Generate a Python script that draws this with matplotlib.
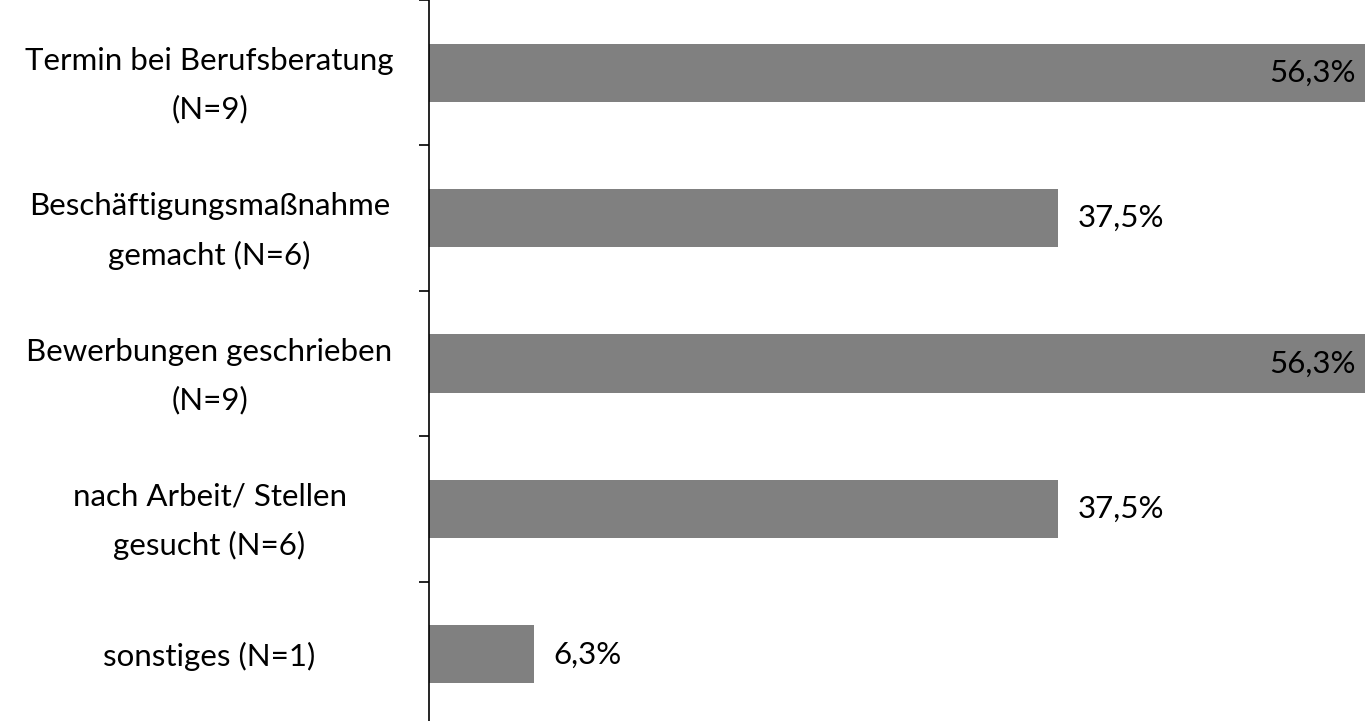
import matplotlib
matplotlib.use("Agg")
import matplotlib.pyplot as plt

categories = [
    "Termin bei Berufsberatung\n(N=9)",
    "Beschäftigungsmaßnahme\ngemacht (N=6)",
    "Bewerbungen geschrieben\n(N=9)",
    "nach Arbeit/ Stellen\ngesucht (N=6)",
    "sonstiges (N=1)",
]
values = [56.25, 37.5, 56.25, 37.5, 6.25]
value_labels = ["56,3%", "37,5%", "56,3%", "37,5%", "6,3%"]

plt.rcParams['font.family'] = ['Lato', 'DejaVu Sans']
FS = 22.5

fig = plt.figure(figsize=(13.65, 7.21), dpi=100)
ax = fig.add_axes([429/1365, -6/721, 1 - 429/1365, 727/721])

pos = list(range(len(categories)))
ax.barh(pos, values, height=0.4, color="#808080", edgecolor="none")
xmax = 55.8
ax.set_xlim(0, xmax)
ax.set_ylim(len(categories) - 0.5, -0.5)

for p, v, lab in zip(pos, values, value_labels):
    if v > xmax * 0.9:
        ax.annotate(lab, xy=(1.0, p), xycoords=('axes fraction', 'data'),
                    xytext=(-7, 0), textcoords='offset points',
                    ha='right', va='center', fontsize=FS, color='black')
    else:
        ax.annotate(lab, xy=(v, p), xytext=(14, 0), textcoords='offset points',
                    ha='left', va='center', fontsize=FS, color='black')

ax.set_yticks(pos)
ax.set_yticklabels(categories, fontsize=FS, ha='center', linespacing=1.85)
ax.tick_params(axis='y', which='major', length=0, pad=158)
ax.set_yticks([p - 0.5 for p in pos] + [len(pos) - 0.5], minor=True)
ax.tick_params(axis='y', which='minor', length=7, width=1.2, color='black')

ax.xaxis.set_visible(False)
for s in ['top', 'right', 'bottom']:
    ax.spines[s].set_visible(False)
ax.spines['left'].set_linewidth(1.2)
ax.spines['left'].set_color('black')

fig.savefig("out.png", dpi=100)
